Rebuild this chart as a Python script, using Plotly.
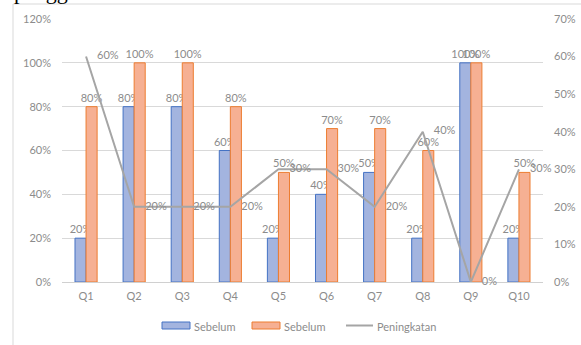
import plotly.graph_objects as go

categories = ["Q1", "Q2", "Q3", "Q4", "Q5", "Q6", "Q7", "Q8", "Q9", "Q10"]
sebelum_a = [20, 80, 80, 60, 20, 40, 50, 20, 100, 20]
sebelum_b = [80, 100, 100, 80, 50, 70, 70, 60, 100, 50]
peningkatan = [60, 20, 20, 20, 30, 30, 20, 40, 0, 30]
left_ticks = [0, 20, 40, 60, 80, 100, 120]
right_ticks = [0, 10, 20, 30, 40, 50, 60, 70]
legend_names = ["Sebelum", "Sebelum", "Peningkatan"]

W, H = 581, 345
L, R, T, B = 62, 38, 19, 63
pw, ph = W - L - R, H - T - B

def px(x):
    return (x - L) / pw

def py(y):
    return (H - B - y) / ph

FONT = "Lato"
GRAY = "#8c8c8c"
FS = 11
BLUE_FILL, BLUE_LINE = "#a3b4df", "#4472c4"
ORG_FILL, ORG_LINE = "#f6b093", "#ed7d31"
LINE_C = "#a5a5a5"

fig = go.Figure()
fig.add_trace(go.Bar(
    x=categories, y=sebelum_a, name=legend_names[0],
    marker=dict(color=BLUE_FILL, line=dict(color=BLUE_LINE, width=1)),
    text=[f"{v}%" for v in sebelum_a], textposition="outside", constraintext="none",
    textfont=dict(color=GRAY, size=FS, family=FONT), cliponaxis=False,
    yaxis="y",
))
fig.add_trace(go.Bar(
    x=categories, y=sebelum_b, name=legend_names[1],
    marker=dict(color=ORG_FILL, line=dict(color=ORG_LINE, width=1)),
    text=[f"{v}%" for v in sebelum_b], textposition="outside", constraintext="none",
    textfont=dict(color=GRAY, size=FS, family=FONT), cliponaxis=False,
    yaxis="y",
))
fig.add_trace(go.Scatter(
    x=categories, y=peningkatan, name=legend_names[2], mode="lines+markers+text",
    line=dict(color=LINE_C, width=2),
    marker=dict(size=16, color="rgba(0,0,0,0)"),
    text=[f"{v}%" for v in peningkatan], textposition="middle right",
    textfont=dict(color=GRAY, size=FS, family=FONT), cliponaxis=False,
    yaxis="y2",
))

# custom legend (decoration only)
shapes = [
    dict(type="line", xref="paper", yref="paper", x0=px(13), x1=px(W + 2), y0=py(4), y1=py(4),
         line=dict(color="#d9d9d9", width=1)),
    dict(type="line", xref="paper", yref="paper", x0=px(13), x1=px(13), y0=py(4), y1=py(H + 2),
         line=dict(color="#d9d9d9", width=1)),
    dict(type="rect", xref="paper", yref="paper", x0=px(162), x1=px(190), y0=py(329), y1=py(322),
         fillcolor=BLUE_FILL, line=dict(color=BLUE_LINE, width=1)),
    dict(type="rect", xref="paper", yref="paper", x0=px(252), x1=px(280), y0=py(329), y1=py(322),
         fillcolor=ORG_FILL, line=dict(color=ORG_LINE, width=1)),
    dict(type="line", xref="paper", yref="paper", x0=px(346), x1=px(373), y0=py(325.5), y1=py(325.5),
         line=dict(color=LINE_C, width=2)),
]
annotations = [
    dict(text="pengg", xref="paper", yref="paper", x=px(12), y=py(-8), xanchor="left",
         yanchor="middle", showarrow=False,
         font=dict(family="Liberation Serif", size=22, color="black")),
]
for name, xpos in zip(legend_names, [192, 282, 375]):
    annotations.append(dict(text=name, xref="paper", yref="paper", x=px(xpos), y=py(326),
                            xanchor="left", yanchor="middle", showarrow=False,
                            font=dict(family=FONT, size=FS, color=GRAY)))

fig.update_layout(
    width=W, height=H,
    margin=dict(l=L, r=R, t=T, b=B, pad=0, autoexpand=False),
    paper_bgcolor="white", plot_bgcolor="white",
    font=dict(family=FONT, size=FS, color=GRAY),
    barmode="group", bargap=0.54, bargroupgap=0,
    xaxis=dict(range=[-0.5, len(categories) - 0.5], showgrid=False, showline=False, ticks="",
               tickfont=dict(size=FS, color=GRAY), ticklabelstandoff=6, automargin=False),
    yaxis=dict(range=[0, 120], tickvals=left_ticks, ticktext=[f"{v}%" for v in left_ticks],
               showgrid=True, gridcolor="#d9d9d9", gridwidth=1, zeroline=True,
               zerolinecolor="#d0d0d0", zerolinewidth=1, showline=False, ticks="",
               ticklabelstandoff=10, tickfont=dict(size=FS, color=GRAY), automargin=False),
    yaxis2=dict(range=[0, 70], tickvals=right_ticks, ticktext=[f"{v}%" for v in right_ticks],
                overlaying="y", side="right", showgrid=False, zeroline=False, showline=False,
                ticks="", ticklabelstandoff=10, tickfont=dict(size=FS, color=GRAY), automargin=False),
    showlegend=False,
    shapes=shapes,
    annotations=annotations,
)

fig.write_html("out.html")
